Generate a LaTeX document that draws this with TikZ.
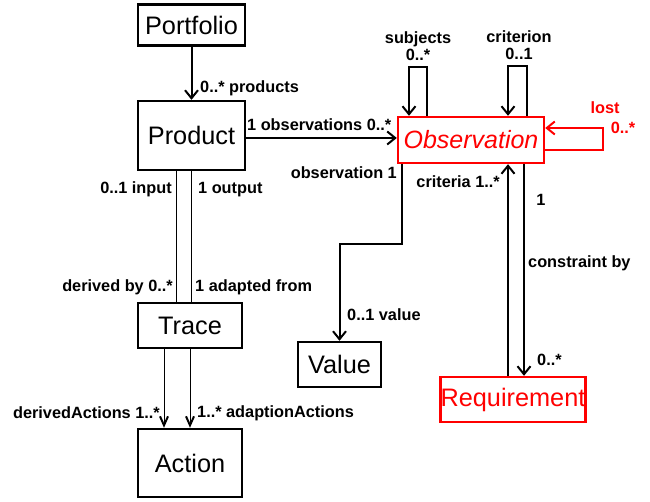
\documentclass[tikz,border=0pt]{standalone}
\usepackage{fontspec}
\setmainfont{Liberation Sans}
\usetikzlibrary{arrows.meta}
\begin{document}
\begin{tikzpicture}[x=1pt,y=-1pt,
  box/.style={draw, line width=2.4pt, inner sep=0pt, font=\fontsize{25.3}{30}\selectfont},
  redbox/.style={box, draw=red, text=red},
  lbl/.style={inner sep=0pt, font=\bfseries\fontsize{16.3}{17}\selectfont, align=center},
  arr/.style={line width=2pt, -{Straight Barb[length=8pt,width=13pt,line width=2pt]}},
  thinarr/.style={line width=1pt, -{Straight Barb[length=9pt,width=8pt,line width=2pt]}},
  thinline/.style={line width=1pt}]
\useasboundingbox (0,0) rectangle (650,502);

\node[box, minimum width=107pt, minimum height=41pt] (portfolio) at (191.5,25) {Portfolio};
\node[box, minimum width=107pt, minimum height=69pt] (product) at (191.5,135.5) {Product};
\node[box, minimum width=104pt, minimum height=45pt] (trace) at (190,325.5) {Trace};
\node[box, minimum width=104pt, minimum height=68pt] (action) at (190,463) {Action};
\node[redbox, minimum width=146pt, minimum height=46pt, font=\itshape\fontsize{25}{30}\selectfont] (obs) at (471,140) {Observation};
\node[box, minimum width=83pt, minimum height=45pt] (value) at (339.5,364.5) {Value};
\node[redbox, minimum width=144pt, minimum height=45pt] (req) at (513,399.5) {Requirement};

% Portfolio -> Product
\draw[arr] (portfolio.south) -- (product.north);
\node[lbl, anchor=west] (lprod) at (200,88) {0..* products};

% Product -- Trace
\draw[thinline] ([xshift=-15pt]product.south) coordinate (pi) -- (pi |- trace.north);
\draw[thinline] ([xshift=0pt]product.south) coordinate (po) -- (po |- trace.north);
\node[lbl, anchor=east] (linput) at (172,189) {0..1 input};
\node[lbl, anchor=west] (loutput) at (198,190) {1 output};
\node[lbl, anchor=east] (lderby) at (173,287) {derived by 0..*};
\node[lbl, anchor=west] (ladfrom) at (195,287) {1 adapted from};

% Trace -> Action
\draw[thinarr] ([xshift=-26pt]trace.south) coordinate (td) -- (td |- action.north);
\draw[thinarr] (trace.south) coordinate (ta) -- (ta |- action.north);
\node[lbl, anchor=east] (ldact) at (160,413) {derivedActions 1..*};
\node[lbl, anchor=west] (laact) at (197,413) {1..* adaptionActions};

% Product -> Observation
\draw[arr] ([yshift=-2.5pt]product.east) coordinate (pe) -- (pe -| obs.west);
\node[lbl, anchor=west] (lobs) at (247,125) {1 observations 0..*};

% subjects loop
\draw[arr] ([xshift=-44pt]obs.north) -- ++(0,-49) -| ([xshift=-62pt]obs.north);
\node[lbl] (lsubj) at (418,46.5) {subjects\\0..*};

% criterion loop
\draw[arr] ([xshift=56pt]obs.north) -- ++(0,-50) -| ([xshift=37pt]obs.north);
\node[lbl] (lcrit) at (519,45) {criterion\\0..1};

% lost loop
\draw[arr, red] ([yshift=-10pt]obs.east) -- ++(58,0) |- ([yshift=12pt]obs.east);
\node[lbl, text=red] (llost) at (605,108) {lost};
\node[lbl, text=red] (llostm) at (623,128) {0..*};

% Observation -> Value
\draw[arr] ([xshift=-69pt]obs.south) -- ++(0,80) -| (value.north);
\node[lbl, anchor=east] (lobs1) at (397,173) {observation 1};
\node[lbl, anchor=west] (lval) at (347,315) {0..1 value};

% Requirement <-> Observation
\coordinate (c1) at ([xshift=37pt]obs.south);
\coordinate (c2) at ([xshift=53pt]obs.south);
\draw[arr] (c1 |- req.north) -- (c1);
\draw[arr] (c2) -- (c2 |- req.north);
\node[lbl, anchor=east] (lcrit2) at (500,182) {criteria 1..*};
\node[lbl] (lone) at (541,200) {1};
\node[lbl, anchor=west] (lcons) at (528,263) {constraint by};
\node[lbl, anchor=west] (lreqm) at (537,360) {0..*};
\end{tikzpicture}
\end{document}
